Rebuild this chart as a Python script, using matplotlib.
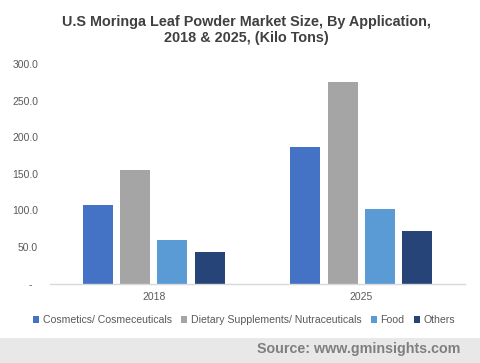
import matplotlib
matplotlib.use("Agg")
import matplotlib.pyplot as plt
import numpy as np
from matplotlib.patches import Rectangle

years = ["2018", "2025"]
series = ["Cosmetics/ Cosmeceuticals", "Dietary Supplements/ Nutraceuticals", "Food", "Others"]
cosmetics = [107.5, 187.0]
dietary = [155.5, 276.0]
food = [59.6, 102.0]
others = [43.2, 72.0]
values = [cosmetics, dietary, food, others]
colors = ["#4472c4", "#a5a5a5", "#5b9bd5", "#264478"]
yticks = [0, 50, 100, 150, 200, 250, 300]
ytick_labels = ["-  ", "50.0", "100.0", "150.0", "200.0", "250.0", "300.0"]

plt.rcParams['font.family'] = ['Liberation Sans', 'DejaVu Sans']

fig = plt.figure(figsize=(4.8, 3.63), dpi=100)
ax = fig.add_axes([50/480, 1-283.5/363, 415/480, 219/363])

x = np.arange(len(years))
width = 0.145
pitch = 0.18
for i, (vals, c) in enumerate(zip(values, colors)):
    ax.bar(x + (i - 1.5) * pitch, vals, width=width, color=c, label=series[i])

ax.set_xlim(-0.5, 1.5)
ax.set_ylim(0, 300)
ax.set_yticks(yticks)
ax.set_yticklabels(ytick_labels)
ax.set_xticks(x)
ax.set_xticklabels(years)
ax.tick_params(axis='both', length=0, labelsize=7.5, labelcolor="#595959")
ax.tick_params(axis='y', pad=8.6)
ax.tick_params(axis='x', pad=6)
for s in ["top", "right", "left"]:
    ax.spines[s].set_visible(False)
ax.spines["bottom"].set_color("#d9d9d9")
ax.spines["bottom"].set_linewidth(1.0)

fig.text(246/480, 1-22/363, "U.S Moringa Leaf Powder Market Size, By Application,", ha="center", va="center",
         fontsize=10.4, fontweight="bold", color="#404040")
fig.text(246/480, 1-38/363, "2018 & 2025, (Kilo Tons)", ha="center", va="center",
         fontsize=10.4, fontweight="bold", color="#404040")

leg = fig.legend(loc="center", bbox_to_anchor=(0.5 + 4/480, 1-320/363), ncol=4, frameon=False,
                 fontsize=7.6, handlelength=0.6, handleheight=0.6, handletextpad=0.3,
                 columnspacing=0.9, labelcolor="#595959")

fig.patches.append(Rectangle((0, 0), 1, (363-338)/363, transform=fig.transFigure,
                             facecolor="#e8e8e8", edgecolor="none", zorder=0))
fig.text(460/480, 1-349/363, "Source: www.gminsights.com", ha="right", va="center",
         fontsize=10.3, fontweight="bold", color="#7f7f7f")

fig.savefig("out.png", dpi=100)
